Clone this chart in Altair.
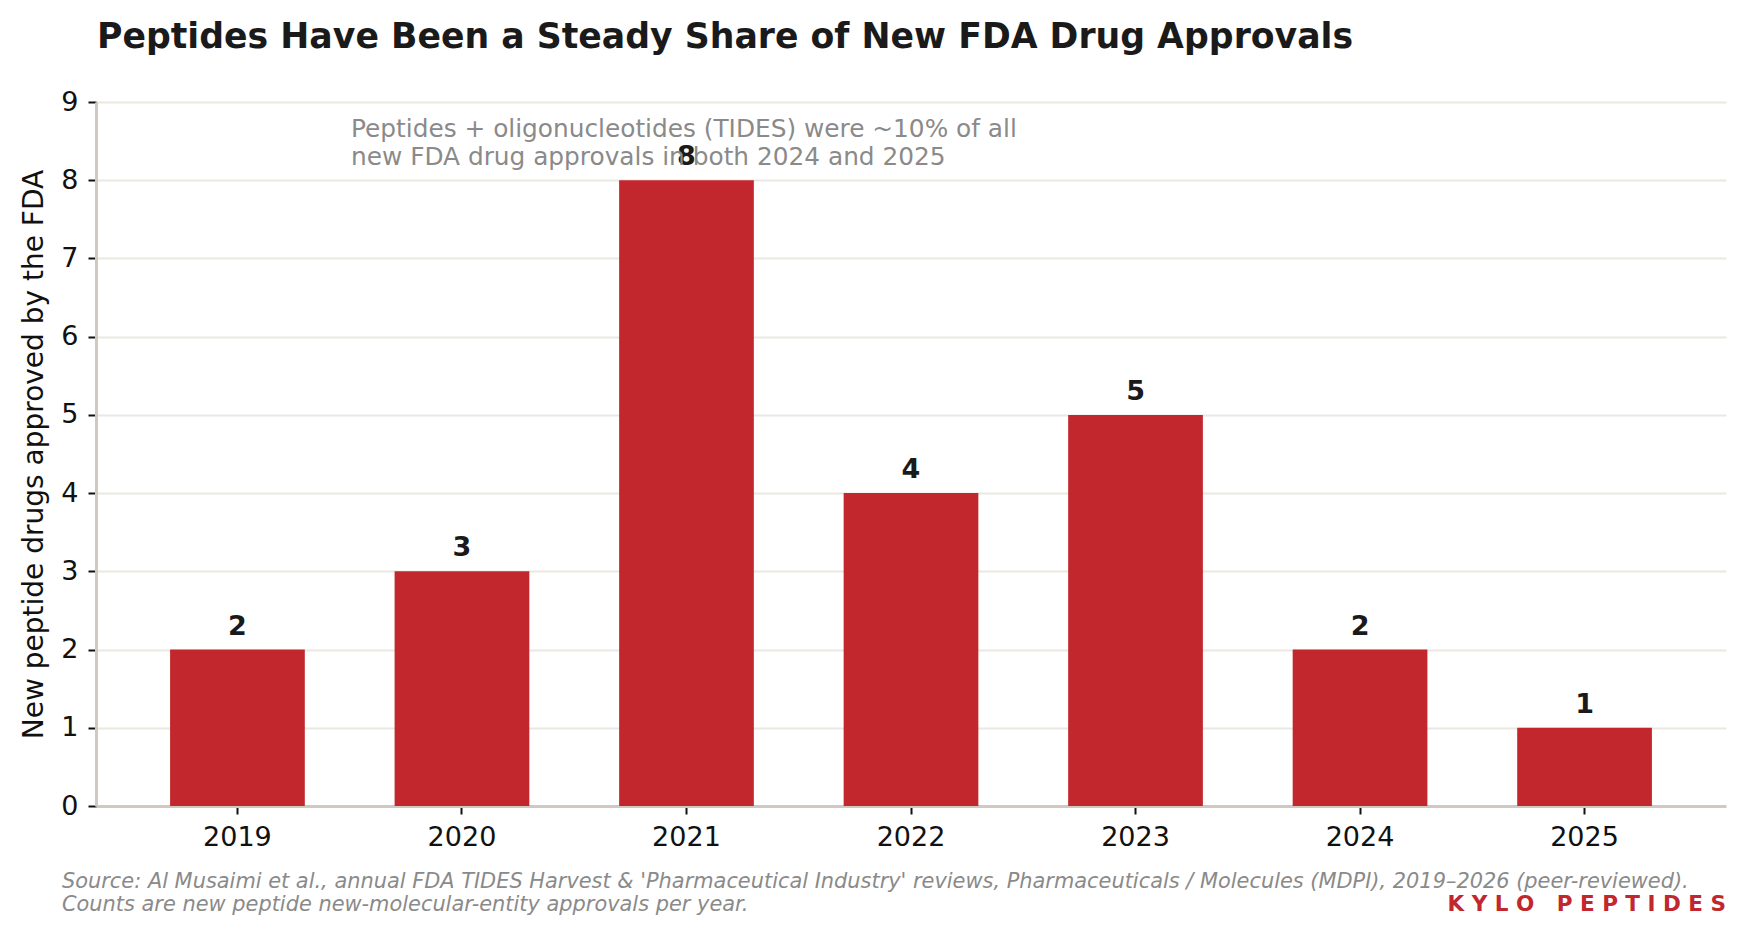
import altair as alt
import pandas as pd

years = ["2019", "2020", "2021", "2022", "2023", "2024", "2025"]
approvals = [2, 3, 8, 4, 5, 2, 1]

title_text = "Peptides Have Been a Steady Share of New FDA Drug Approvals"
y_title = "New peptide drugs approved by the FDA"
note_lines = [
    "Peptides + oligonucleotides (TIDES) were ~10% of all",
    "new FDA drug approvals in both 2024 and 2025",
]
source_lines = [
    "Source: Al Musaimi et al., annual FDA TIDES Harvest & 'Pharmaceutical Industry' reviews, Pharmaceuticals / Molecules (MDPI), 2019\u20132026 (peer-reviewed).",
    "Counts are new peptide new-molecular-entity approvals per year.",
]
NB = "\u00a0"
brand = NB.join("KYLO") + NB * 3 + NB.join("PEPTIDES")

FONT = "DejaVu Sans"
RED = "#C1272D"
DARK = "#1a1a1a"
GRAY = "#8a8a8a"
W, H = 1630, 704

df = pd.DataFrame({"year": years, "n": approvals})
one = alt.Data(values=[{"k": 1}])

x_enc = alt.X(
    "year:N",
    sort=years,
    scale=alt.Scale(paddingInner=0.4, paddingOuter=0.33),
    axis=alt.Axis(
        title=None, labelAngle=0, labelFontSize=27, labelColor="#111111",
        labelPadding=10, tickSize=8, tickWidth=2, tickColor="#111111",
        domainColor="#d0c9c0", domainWidth=3, grid=False,
    ),
)
y_enc = alt.Y(
    "n:Q",
    scale=alt.Scale(domain=[0, 9], nice=False),
    axis=alt.Axis(
        values=list(range(10)), format="d", title=y_title, titleFontSize=28,
        titleFontWeight="normal", titleColor="#111111", titleAngle=-90,
        titleX=-54, titleY=H / 2, titleAlign="center", titleBaseline="alphabetic",
        labelFontSize=27, labelColor="#111111", labelPadding=10,
        tickSize=8, tickWidth=2, tickColor="#111111",
        domainColor="#d0c9c0", domainWidth=3,
        grid=True, gridColor="#ebe7e1", gridWidth=2,
    ),
)

base = alt.Chart(df)
bars = base.mark_bar(color=RED).encode(x=x_enc, y=y_enc)
labels = base.mark_text(
    font=FONT, fontSize=27, fontWeight="bold", color=DARK, dy=-15,
    baseline="alphabetic", align="center",
).encode(x=alt.X("year:N", sort=years), y="n:Q", text="n:Q")

title = alt.Chart(one).mark_text(
    text=title_text, font=FONT, fontSize=34.7, fontWeight="bold", color=DARK,
    align="left", baseline="alphabetic",
).encode(x=alt.value(1), y=alt.value(-54))

note = alt.Chart(one).mark_text(
    text=note_lines, font=FONT, fontSize=24.8, color=GRAY, lineHeight=28.5,
    align="left", baseline="alphabetic",
).encode(x=alt.value(255), y=alt.value(34.7))

source = alt.Chart(one).mark_text(
    text=source_lines, font=FONT, fontSize=20.9, fontStyle="italic", color=GRAY,
    lineHeight=23, align="left", baseline="alphabetic",
).encode(x=alt.value(-34), y=alt.value(786))

brand_txt = alt.Chart(one).mark_text(
    text=brand, font=FONT, fontSize=21.5, fontWeight="bold", color=RED,
    align="right", baseline="alphabetic",
).encode(x=alt.value(W), y=alt.value(809))

chart = alt.layer(bars, labels, note, title, source, brand_txt).properties(
    width=W, height=H,
    autosize=alt.AutoSizeParams(type="none"),
    padding={"left": 88, "top": 94, "right": 13, "bottom": 120},
).configure_view(stroke=None).configure_axis(
    labelFont=FONT, titleFont=FONT
).configure_text(font=FONT)

chart.save("out.html", embed_options={"renderer": "svg", "actions": False})
